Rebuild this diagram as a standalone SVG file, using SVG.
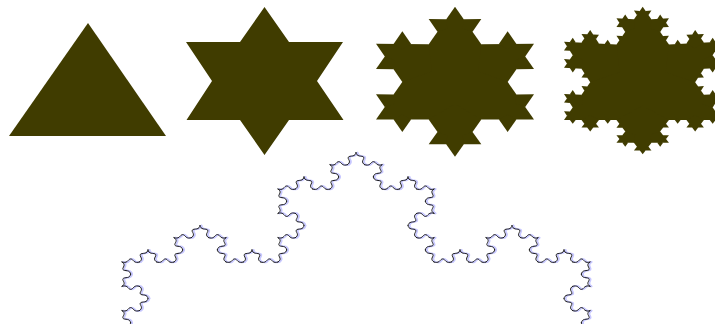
<svg xmlns="http://www.w3.org/2000/svg" width="715" height="324" viewBox="0 0 715 324">
<style>
.fill{fill:#403c00}
.line{fill:none;stroke-linejoin:round;stroke-linecap:round}
.ink{stroke:#1c1c1c;stroke-width:1}
.halo{stroke:#c8c8ff;stroke-width:1.8}
</style>
<defs>
<filter id="soft" x="0" y="0" width="1" height="1"><feGaussianBlur stdDeviation=".3"/></filter>
<polygon id="f1" points=".3333,0 .5,-.2887 .6667,0 .5,.12"/>
<g id="f2"><use href="#f1"/><use href="#f1" transform="scale(.3333)"/><use href="#f1" transform="translate(.3333,0) rotate(-60) scale(.3333)"/><use href="#f1" transform="translate(.5,-.2887) rotate(60) scale(.3333)"/><use href="#f1" transform="translate(.6667,0) scale(.3333)"/></g>
<g id="f3"><use href="#f1"/><use href="#f2" transform="scale(.3333)"/><use href="#f2" transform="translate(.3333,0) rotate(-60) scale(.3333)"/><use href="#f2" transform="translate(.5,-.2887) rotate(60) scale(.3333)"/><use href="#f2" transform="translate(.6667,0) scale(.3333)"/></g>
<path id="k1" d="M0,0 C.12,.05 .22,.04 .3,-.04 C.38,-.13 .42,-.22 .5,-.22 C.58,-.22 .62,-.13 .7,-.04 C.78,.04 .88,.05 1,0" vector-effect="non-scaling-stroke"/>
<g id="k2"><use href="#k1" transform="scale(.3333)"/><use href="#k1" transform="translate(.3333,0) rotate(-60) scale(.3333)"/><use href="#k1" transform="translate(.5,-.2887) rotate(60) scale(.3333)"/><use href="#k1" transform="translate(.6667,0) scale(.3333)"/></g>
<g id="k3"><use href="#k2" transform="scale(.3333)"/><use href="#k2" transform="translate(.3333,0) rotate(-60) scale(.3333)"/><use href="#k2" transform="translate(.5,-.2887) rotate(60) scale(.3333)"/><use href="#k2" transform="translate(.6667,0) scale(.3333)"/></g>
<g id="curve" transform="translate(0,262) scale(1,.81)">
<use href="#k2" transform="translate(122,90.07) rotate(-60) scale(52)"/>
<use href="#k2" transform="translate(148,45.03) rotate(-120) scale(52)"/>
<use href="#k3" transform="translate(122,0) scale(156)"/>
<use href="#k3" transform="translate(278,0) rotate(-60) scale(156)"/>
<use href="#k3" transform="translate(356,-135.1) rotate(60) scale(156)"/>
<use href="#k3" transform="translate(434,0) scale(156)"/>
<use href="#k2" transform="translate(590,0) rotate(120) scale(52)"/>
<use href="#k2" transform="translate(564,45.03) rotate(60) scale(52)"/>
</g>
</defs>
<g id="level0" class="fill"><polygon points="9,136 88,23 166,136"/></g>
<g id="level1" class="fill"><polygon points="264.5,7 289,42 343,42 317,81 343.5,120 289,120 264.5,155 240,120 186.5,120 212,81 186,42 240,42"/></g>
<g id="level2" class="fill">
<polygon points="376,119.5 455,6.7 534,119.5"/>
<use href="#f2" transform="matrix(79,-112.8,136.8,67.2,376,119.5)"/>
<use href="#f2" transform="matrix(79,112.8,-136.8,67.2,455,6.7)"/>
<use href="#f2" transform="matrix(-158,0,0,-128.9,534,119.5)"/>
</g>
<g id="level3" class="fill">
<polygon points="564,120 642.7,6.7 721.4,120"/>
<use href="#f3" transform="matrix(78.7,-113.3,136.3,75,564,120)"/>
<use href="#f3" transform="matrix(78.7,113.3,-136.3,75,642.7,6.7)"/>
<use href="#f3" transform="matrix(-157.4,0,0,-118.8,721.4,120)"/>
</g>
<g id="connectors" filter="url(#soft)">
<use href="#curve" class="line halo" transform="translate(1.5,0)"/>
<use href="#curve" class="line ink"/>
</g>
</svg>
